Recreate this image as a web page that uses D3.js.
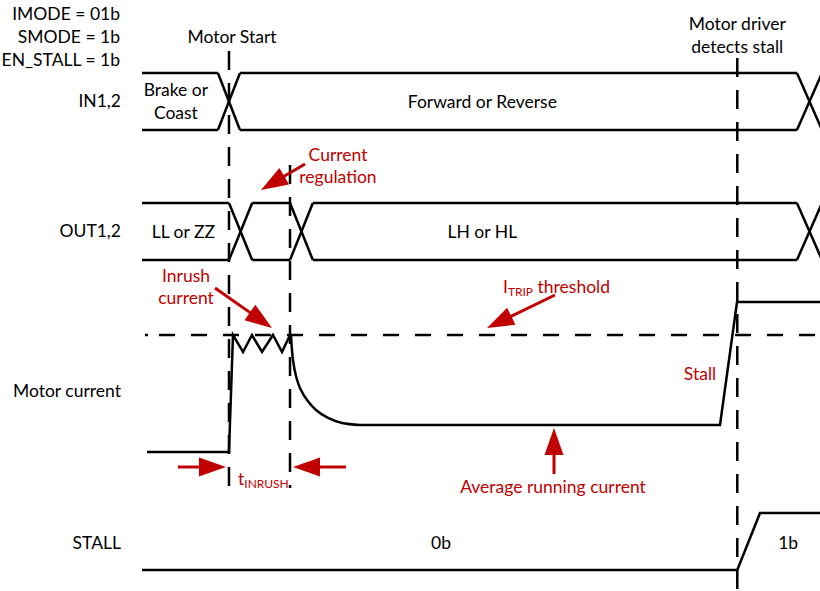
<!DOCTYPE html>
<html><head><meta charset="utf-8">
<script src="https://cdn.jsdelivr.net/npm/d3@7"></script>
<style>
body{margin:0;background:#fff}
svg{display:block}
text{font-family:Lato,"Open Sans",sans-serif;font-size:17.5px}
</style>
</head><body>
<svg id="chart" width="820" height="591"></svg>
<script>
// ---------------- data ----------------
const configLines = ["IMODE = 01b", "SMODE = 1b", "EN_STALL = 1b"];
const signalNames = ["IN1,2", "OUT1,2", "Motor current", "STALL"];
// event markers (time units 0..100)
const eventTimes = [12.83, 21.83, 87.8];
const eventLabels = [["Motor Start"], [], ["Motor driver", "detects stall"]];
// bus signals: crossover intervals and state labels
const in12Crossings = [[11.2, 14.45], [96.6, 100.3]];
const in12StateTimes = [5.0, 50.2];
const in12StateLabels = [["Brake or", "Coast"], ["Forward or Reverse"]];
const out12Crossings = [[12.83, 16.25], [21.83, 25.2], [96.6, 100.3]];
const out12StateTimes = [6.1, 50.2];
const out12StateLabels = [["LL or ZZ"], ["LH or HL"]];
// motor current (normalised: 0 = idle, 1 = ITRIP)
const currentRiseTimes  = [0.74, 12.83, 13.42, 14.9, 16.22, 17.7, 19.32, 20.65, 21.83];
const currentRiseValues = [0, 0, 1.0, 0.855, 1.0, 0.855, 1.0, 0.855, 1.0];
const currentDecayTimes  = [21.98, 22.27, 22.71, 23.30, 24.34, 25.66, 27.43, 29.50, 32.15];
const currentDecayValues = [0.991, 0.786, 0.650, 0.547, 0.444, 0.359, 0.291, 0.248, 0.231];
const currentRunTimes  = [32.15, 85.25, 87.76, 100];
const currentRunValues = [0.231, 0.231, 1.282, 1.282];
const itripLevel = 1.0;
// STALL output
const stallTimes  = [0, 87.8, 91.15, 100];
const stallValues = [0, 0, 1, 1];
const stallStateTimes = [44.1, 95.3];
const stallStateLabels = ["0b", "1b"];

// ---------------- layout ----------------
const svg = d3.select("#chart");
const RED = "#c00000";
const x = d3.scaleLinear().domain([0, 100]).range([142, 820]);
const yIn = d3.scaleLinear().domain([0, 1]).range([130, 73]);
const yOut = d3.scaleLinear().domain([0, 1]).range([260, 203]);
const yCur = d3.scaleLinear().domain([0, 1]).range([452, 335]);
const yStall = d3.scaleLinear().domain([0, 1]).range([570, 513]);

svg.append("defs").append("clipPath").attr("id", "clip")
  .append("rect").attr("x", 0).attr("y", 0).attr("width", 820).attr("height", 591);
const g = svg.append("g").attr("clip-path", "url(#clip)");

// config text
g.selectAll("text.cfg").data(configLines).join("text")
  .attr("class", "cfg").attr("x", 120).attr("y", (d, i) => 20 + i * 23)
  .attr("text-anchor", "end").text(d => d);

// row labels
const rowY = [107, 237, 397, 549];
g.selectAll("text.row").data(signalNames).join("text")
  .attr("class", "row").attr("x", 121).attr("y", (d, i) => rowY[i])
  .attr("text-anchor", "end").text(d => d);

// event dashed lines
const evTop = [51, 165, 58], evBot = [488, 488, 591];
g.selectAll("line.ev").data(eventTimes).join("line")
  .attr("class", "ev")
  .attr("x1", d => x(d)).attr("x2", d => x(d))
  .attr("y1", (d, i) => evTop[i]).attr("y2", (d, i) => evBot[i])
  .attr("stroke", "#000").attr("stroke-width", 2.5)
  .attr("stroke-dasharray", "19,13");
eventLabels.forEach((lines, i) => {
  lines.forEach((s, j) => {
    g.append("text").attr("x", x(eventTimes[i]) + (i === 0 ? 3 : 0))
      .attr("y", (i === 0 ? 43 : 30) + j * 23)
      .attr("text-anchor", "middle").text(s);
  });
});

// bus drawing
function drawBus(crossings, yS, stateTimes, stateLabels, midY) {
  const pts = [0];
  crossings.forEach(c => pts.push(c[0], c[1]));
  const line = d3.line().x(d => x(d[0])).y(d => yS(d[1]));
  for (let i = 0; i < pts.length; i += 2) {
    const a = pts[i], b = i + 1 < pts.length ? pts[i + 1] : 100;
    [0, 1].forEach(v => g.append("path").attr("d", line([[a, v], [b, v]]))
      .attr("fill", "none").attr("stroke", "#000").attr("stroke-width", 2.5));
  }
  crossings.forEach(c => {
    g.append("path").attr("d", line([[c[0], 1], [c[1], 0]]))
      .attr("fill", "none").attr("stroke", "#000").attr("stroke-width", 2.5);
    g.append("path").attr("d", line([[c[0], 0], [c[1], 1]]))
      .attr("fill", "none").attr("stroke", "#000").attr("stroke-width", 2.5);
  });
  stateLabels.forEach((lines, i) => {
    lines.forEach((s, j) => {
      g.append("text").attr("x", x(stateTimes[i]))
        .attr("y", midY + 6 + (j - (lines.length - 1) / 2) * 23)
        .attr("text-anchor", "middle").text(s);
    });
  });
}
drawBus(in12Crossings, yIn, in12StateTimes, in12StateLabels, 101.5);
drawBus(out12Crossings, yOut, out12StateTimes, out12StateLabels, 231.5);

// ITRIP threshold dashed line
g.append("line").attr("x1", 145).attr("x2", 148).attr("y1", yCur(itripLevel)).attr("y2", yCur(itripLevel))
  .attr("stroke", "#000").attr("stroke-width", 2.5);
g.append("line").attr("x1", 159).attr("x2", 820).attr("y1", yCur(itripLevel)).attr("y2", yCur(itripLevel))
  .attr("stroke", "#000").attr("stroke-width", 2.5).attr("stroke-dasharray", "16,16");

// motor current trace
const lin = d3.line().x(d => x(d[0])).y(d => yCur(d[1]));
const smooth = d3.line().x(d => x(d[0])).y(d => yCur(d[1])).curve(d3.curveCatmullRom.alpha(0.5));
const zip = (a, b) => a.map((t, i) => [t, b[i]]);
g.append("path").attr("d", lin(zip(currentRiseTimes, currentRiseValues)))
  .attr("fill", "none").attr("stroke", "#000").attr("stroke-width", 2.5).attr("stroke-linejoin", "miter");
g.append("path").attr("d", smooth(zip(currentDecayTimes, currentDecayValues)))
  .attr("fill", "none").attr("stroke", "#000").attr("stroke-width", 2.5);
g.append("path").attr("d", lin(zip(currentRunTimes, currentRunValues)))
  .attr("fill", "none").attr("stroke", "#000").attr("stroke-width", 2.5);

// STALL trace
g.append("path").attr("d", d3.line().x(d => x(d[0])).y(d => yStall(d[1]))(zip(stallTimes, stallValues)))
  .attr("fill", "none").attr("stroke", "#000").attr("stroke-width", 2.5);
g.selectAll("text.st").data(stallStateLabels).join("text")
  .attr("class", "st").attr("x", (d, i) => x(stallStateTimes[i])).attr("y", 549)
  .attr("text-anchor", "middle").text(d => d);

// red annotations
function arrow(x1, y1, x2, y2) {
  const L = 27, W = 9.5;
  const dx = x2 - x1, dy = y2 - y1, len = Math.hypot(dx, dy);
  const ux = dx / len, uy = dy / len;
  const bx = x2 - ux * L, by = y2 - uy * L;
  g.append("line").attr("x1", x1).attr("y1", y1).attr("x2", bx + ux * 2).attr("y2", by + uy * 2)
    .attr("stroke", RED).attr("stroke-width", 3);
  g.append("path").attr("d", `M${x2},${y2}L${bx - uy * W},${by + ux * W}L${bx + uy * W},${by - ux * W}Z`)
    .attr("fill", RED);
}
arrow(305, 164, 261, 190);
arrow(215, 288, 272, 328);
arrow(555, 295, 487, 328);
arrow(554, 474, 554, 428);
arrow(178, 467, 226, 467);
arrow(346, 467, 293, 467);

function redText(xp, yp, anchor, parts) {
  const t = g.append("text").attr("x", xp).attr("y", yp).attr("text-anchor", anchor).attr("fill", RED);
  parts.forEach(p => {
    const ts = t.append("tspan").text(p.s);
    if (p.sub) ts.attr("font-size", "12px").attr("dy", 3);
    else if (p.back) ts.attr("dy", -3);
  });
}
redText(338, 161, "middle", [{s: "Current"}]);
redText(338, 183, "middle", [{s: "regulation"}]);
redText(186, 282, "middle", [{s: "Inrush"}]);
redText(186, 304, "middle", [{s: "current"}]);
redText(503, 293, "start", [{s: "I"}, {s: "TRIP", sub: true}, {s: " threshold", back: true}]);
redText(700, 380, "middle", [{s: "Stall"}]);
redText(553, 493, "middle", [{s: "Average running current"}]);
redText(238, 485, "start", [{s: "t"}, {s: "INRUSH", sub: true}]);
</script>
</body></html>
